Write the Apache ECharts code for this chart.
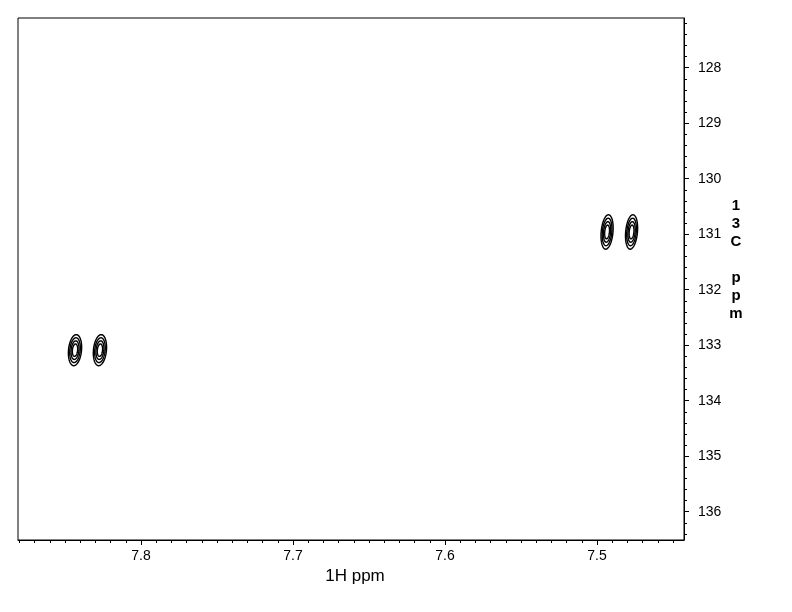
<!DOCTYPE html>
<html>
<head>
<meta charset="utf-8">
<script src="https://cdn.jsdelivr.net/npm/echarts@6/dist/echarts.min.js"></script>
<style>html,body{margin:0;padding:0;background:#fff}#c{width:792px;height:612px}</style>
</head>
<body>
<div id="c"></div>
<script>
// ---- data ----
const peakH = [7.8434, 7.8270, 7.4934, 7.4773];      // 1H ppm of cross peaks
const peakC = [133.09, 133.09, 130.96, 130.96];      // 13C ppm of cross peaks
const peakHalfWidthH = [0.0043, 0.0043, 0.0039, 0.0039];
const peakHalfWidthC = [0.28, 0.28, 0.31, 0.31];
const contourLevels = [1, 0.8, 0.6, 0.4];
const xMajorTicks = [7.5, 7.6, 7.7, 7.8];
const yMajorTicks = [128, 129, 130, 131, 132, 133, 134, 135, 136];
const xRange = [7.4428, 7.8809];
const yRange = [127.105, 136.51];

const xMinorTicks = [];
for (let v = 745; v <= 788; v++) xMinorTicks.push(+(v / 100).toFixed(2));
const yMinorTicks = [];
for (let v = 636; v <= 682; v++) yMinorTicks.push(+(v / 5).toFixed(1));

const peaks = peakH.map((h, i) => [h, peakC[i], peakHalfWidthH[i], peakHalfWidthC[i]]);

const font = "'Liberation Sans', Arial, sans-serif";
const narrow = "'Liberation Sans Narrow', 'Arial Narrow', 'Liberation Sans', Arial, sans-serif";
const chart = echarts.init(document.getElementById('c'), null, {renderer: 'canvas'});
const option = {
  backgroundColor: '#fff',
  animation: false,
  grid: {left: 18, right: 108, top: 18, bottom: 72, show: true, borderColor: '#000', borderWidth: 1},
  xAxis: [{
    type: 'value', position: 'bottom', inverse: true, min: xRange[0], max: xRange[1],
    axisLine: {show: true, lineStyle: {color: '#000', width: 1}},
    axisTick: {show: true, length: 5, customValues: xMajorTicks, lineStyle: {color: '#000'}},
    axisLabel: {show: true, customValues: xMajorTicks, margin: 9, color: '#000', fontSize: 14, fontFamily: narrow},
    splitLine: {show: false},
    name: '1H ppm', nameLocation: 'middle', nameGap: 28,
    nameTextStyle: {fontSize: 17, color: '#000', fontFamily: font, padding: [0, 0, 0, 8]}
  }, {
    type: 'value', position: 'bottom', inverse: true, min: xRange[0], max: xRange[1],
    axisLine: {show: false},
    axisTick: {show: true, length: 3, customValues: xMinorTicks, lineStyle: {color: '#000'}},
    axisLabel: {show: false}, splitLine: {show: false}
  }],
  yAxis: [{
    type: 'value', position: 'right', inverse: true, min: yRange[0], max: yRange[1],
    axisLine: {show: true, lineStyle: {color: '#000', width: 1}},
    axisTick: {show: true, length: 5, customValues: yMajorTicks, lineStyle: {color: '#000'}},
    axisLabel: {show: true, customValues: yMajorTicks, margin: 14, color: '#000', fontSize: 14, fontFamily: narrow},
    splitLine: {show: false}
  }, {
    type: 'value', position: 'right', inverse: true, min: yRange[0], max: yRange[1],
    axisLine: {show: false},
    axisTick: {show: true, length: 3, customValues: yMinorTicks, lineStyle: {color: '#000'}},
    axisLabel: {show: false}, splitLine: {show: false}
  }],
  graphic: [{
    type: 'text', x: 736, y: 197,
    style: {text: '1\n3\nC\n\np\np\nm', font: 'bold 15px ' + font, fill: '#000', lineHeight: 18, align: 'center', verticalAlign: 'top'}
  }],
  series: [{
    type: 'custom',
    xAxisIndex: 0, yAxisIndex: 0,
    data: peaks,
    renderItem: function (params, api) {
      const vx = api.value(0), vy = api.value(1);
      const c = api.coord([vx, vy]);
      const s = api.size([api.value(2), api.value(3)], [vx, vy]);
      const children = contourLevels.map(function (lv) {
        const pts = [];
        const n = 48;
        for (let k = 0; k < n; k++) {
          const t = 2 * Math.PI * k / n;
          const px = s[0] * lv * Math.cos(t);
          const py = s[1] * lv * Math.sin(t);
          pts.push([c[0] + px - py * 0.08, c[1] + py]);
        }
        return {type: 'polygon', shape: {points: pts}, style: {fill: 'none', stroke: '#000', lineWidth: 1.4}};
      });
      return {type: 'group', children: children};
    }
  }]
};
chart.setOption(option);
</script>
</body>
</html>
